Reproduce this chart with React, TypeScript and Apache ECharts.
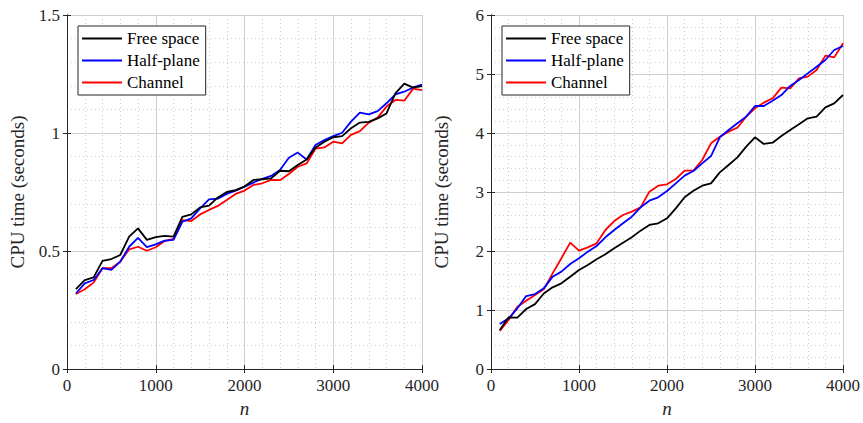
import React, { useEffect, useRef } from "react";
import * as echarts from "echarts";

const nValues = [100,200,300,400,500,600,700,800,900,1000,1100,1200,1300,1400,1500,1600,1700,1800,1900,2000,2100,2200,2300,2400,2500,2600,2700,2800,2900,3000,3100,3200,3300,3400,3500,3600,3700,3800,3900,4000];

const leftFree = [0.338,0.377,0.388,0.458,0.466,0.483,0.561,0.596,0.547,0.559,0.564,0.561,0.645,0.655,0.685,0.692,0.727,0.750,0.758,0.773,0.801,0.804,0.808,0.840,0.838,0.864,0.888,0.938,0.963,0.982,0.987,1.020,1.044,1.047,1.062,1.083,1.168,1.209,1.192,1.199];
const leftHalf = [0.320,0.363,0.377,0.427,0.420,0.455,0.518,0.556,0.516,0.528,0.544,0.547,0.624,0.638,0.681,0.719,0.722,0.742,0.756,0.773,0.790,0.806,0.818,0.843,0.895,0.917,0.888,0.949,0.970,0.987,1.001,1.048,1.086,1.079,1.093,1.126,1.164,1.175,1.193,1.205];
const leftChannel = [0.318,0.338,0.366,0.427,0.427,0.455,0.507,0.518,0.501,0.516,0.542,0.551,0.631,0.627,0.655,0.674,0.691,0.716,0.742,0.756,0.780,0.787,0.801,0.800,0.826,0.857,0.871,0.934,0.939,0.963,0.956,0.992,1.008,1.044,1.065,1.112,1.140,1.137,1.188,1.182];

const rightFree = [0.661,0.876,0.870,1.017,1.100,1.280,1.384,1.452,1.565,1.678,1.763,1.859,1.944,2.045,2.141,2.232,2.345,2.441,2.469,2.554,2.723,2.910,3.020,3.107,3.147,3.333,3.458,3.588,3.768,3.927,3.814,3.836,3.949,4.051,4.147,4.249,4.277,4.435,4.503,4.644];
const rightHalf = [0.763,0.859,1.028,1.237,1.271,1.367,1.565,1.650,1.780,1.876,1.989,2.085,2.232,2.356,2.469,2.582,2.740,2.853,2.910,3.017,3.147,3.277,3.356,3.486,3.610,3.927,4.051,4.164,4.277,4.458,4.458,4.548,4.644,4.797,4.898,5.011,5.124,5.237,5.407,5.475];
const rightChannel = [0.644,0.831,1.056,1.158,1.254,1.350,1.621,1.876,2.141,2.006,2.062,2.130,2.356,2.508,2.610,2.667,2.740,3.006,3.107,3.130,3.220,3.362,3.362,3.542,3.825,3.938,4.023,4.090,4.277,4.418,4.514,4.588,4.768,4.757,4.927,4.955,5.068,5.311,5.282,5.520];

const seriesNames = ["Free space", "Half-plane", "Channel"];
const seriesColors = ["#000000", "#0000ff", "#ff0000"];

const FONT = "Liberation Serif";
const AXIS_COLOR = "#262626";
const GRID_COLOR = "#cfcfcf";

function pairs(ys: number[]) {
  return nValues.map((n, i) => [n, ys[i]]);
}

export default function App() {
  const ref = useRef<HTMLDivElement>(null);
  useEffect(() => {
    if (!ref.current) return;
    const chart = echarts.init(ref.current, undefined, { renderer: "svg" });

    const grids = [
      { left: 67, top: 15, width: 355, height: 354 },
      { left: 491, top: 15, width: 353, height: 354 },
    ];

    const xMain = (gi: number) => ({
      type: "value",
      gridIndex: gi,
      min: 0,
      max: 4000,
      interval: 1000,
      position: "bottom",
      name: "n",
      nameLocation: "middle",
      nameGap: 30,
      nameTextStyle: { fontFamily: FONT, fontStyle: "italic", fontSize: 19, color: "#262626" },
      axisLine: { show: true, lineStyle: { color: AXIS_COLOR, width: 1 } },
      axisTick: { show: true, inside: true, length: 4, lineStyle: { color: AXIS_COLOR } },
      axisLabel: { fontFamily: FONT, fontSize: 17, color: "#262626", margin: 8, formatter: (v: number) => String(v) },
      splitLine: { show: true, lineStyle: { color: GRID_COLOR, width: 1 } },
      minorTick: { show: false, splitNumber: 5 },
      minorSplitLine: { show: true, lineStyle: { color: GRID_COLOR, type: [1, 3], width: 1 } },
    });
    const xTop = (gi: number) => ({
      type: "value",
      gridIndex: gi,
      min: 0,
      max: 4000,
      interval: 1000,
      position: "top",
      axisLine: { show: true, lineStyle: { color: AXIS_COLOR, width: 1 } },
      axisTick: { show: true, inside: true, length: 4, lineStyle: { color: AXIS_COLOR } },
      axisLabel: { show: false },
      splitLine: { show: false },
    });
    const yMain = (gi: number, max: number, interval: number, gap: number) => ({
      type: "value",
      gridIndex: gi,
      min: 0,
      max,
      interval,
      position: "left",
      name: "CPU time (seconds)",
      nameLocation: "middle",
      nameGap: gap,
      nameTextStyle: { fontFamily: FONT, fontSize: 19, color: "#262626" },
      axisLine: { show: true, lineStyle: { color: AXIS_COLOR, width: 1 } },
      axisTick: { show: true, inside: true, length: 4, lineStyle: { color: AXIS_COLOR } },
      axisLabel: { fontFamily: FONT, fontSize: 17, color: "#262626", margin: 7, formatter: (v: number) => String(v) },
      splitLine: { show: true, lineStyle: { color: GRID_COLOR, width: 1 } },
      minorTick: { show: false, splitNumber: 5 },
      minorSplitLine: { show: true, lineStyle: { color: GRID_COLOR, type: [1, 3], width: 1 } },
    });
    const yRight = (gi: number, max: number, interval: number) => ({
      type: "value",
      gridIndex: gi,
      min: 0,
      max,
      interval,
      position: "right",
      axisLine: { show: true, lineStyle: { color: AXIS_COLOR, width: 1 } },
      axisTick: { show: true, inside: true, length: 4, lineStyle: { color: AXIS_COLOR } },
      axisLabel: { show: false },
      splitLine: { show: false },
    });

    const leftData = [leftFree, leftHalf, leftChannel];
    const rightData = [rightFree, rightHalf, rightChannel];

    const series: any[] = [];
    leftData.forEach((d, i) => {
      series.push({
        type: "line",
        name: seriesNames[i],
        xAxisIndex: 0,
        yAxisIndex: 0,
        data: pairs(d),
        symbol: "none",
        lineStyle: { color: seriesColors[i], width: 1.8 },
        itemStyle: { color: seriesColors[i] },
        z: 10 - i,
      });
    });
    rightData.forEach((d, i) => {
      series.push({
        type: "line",
        name: seriesNames[i],
        xAxisIndex: 2,
        yAxisIndex: 2,
        data: pairs(d),
        symbol: "none",
        lineStyle: { color: seriesColors[i], width: 1.8 },
        itemStyle: { color: seriesColors[i] },
        z: 10 - i,
      });
    });

    const legendBase = {
      orient: "vertical",
      top: 26,
      icon: "rect",
      itemWidth: 40,
      itemHeight: 2,
      itemGap: 5,
      padding: [4, 6, 4, 4],
      backgroundColor: "#ffffff",
      borderColor: "#262626",
      borderWidth: 1,
      borderRadius: 0,
      selectedMode: false,
      textStyle: { fontFamily: FONT, fontSize: 17, color: "#000", height: 16, lineHeight: 16 },
      data: seriesNames,
    };

    chart.setOption({
      animation: false,
      backgroundColor: "#ffffff",
      grid: grids,
      xAxis: [xMain(0), xTop(0), xMain(1), xTop(1)],
      yAxis: [yMain(0, 1.5, 0.5, 40), yRight(0, 1.5, 0.5), yMain(1, 6, 1, 40), yRight(1, 6, 1)],
      legend: [
        { ...legendBase, left: 78 },
        { ...legendBase, left: 502 },
      ],
      series,
    });
    return () => chart.dispose();
  }, []);
  return <div ref={ref} style={{ width: 863, height: 423, position: "absolute", left: 0, top: 0 }} />;
}
